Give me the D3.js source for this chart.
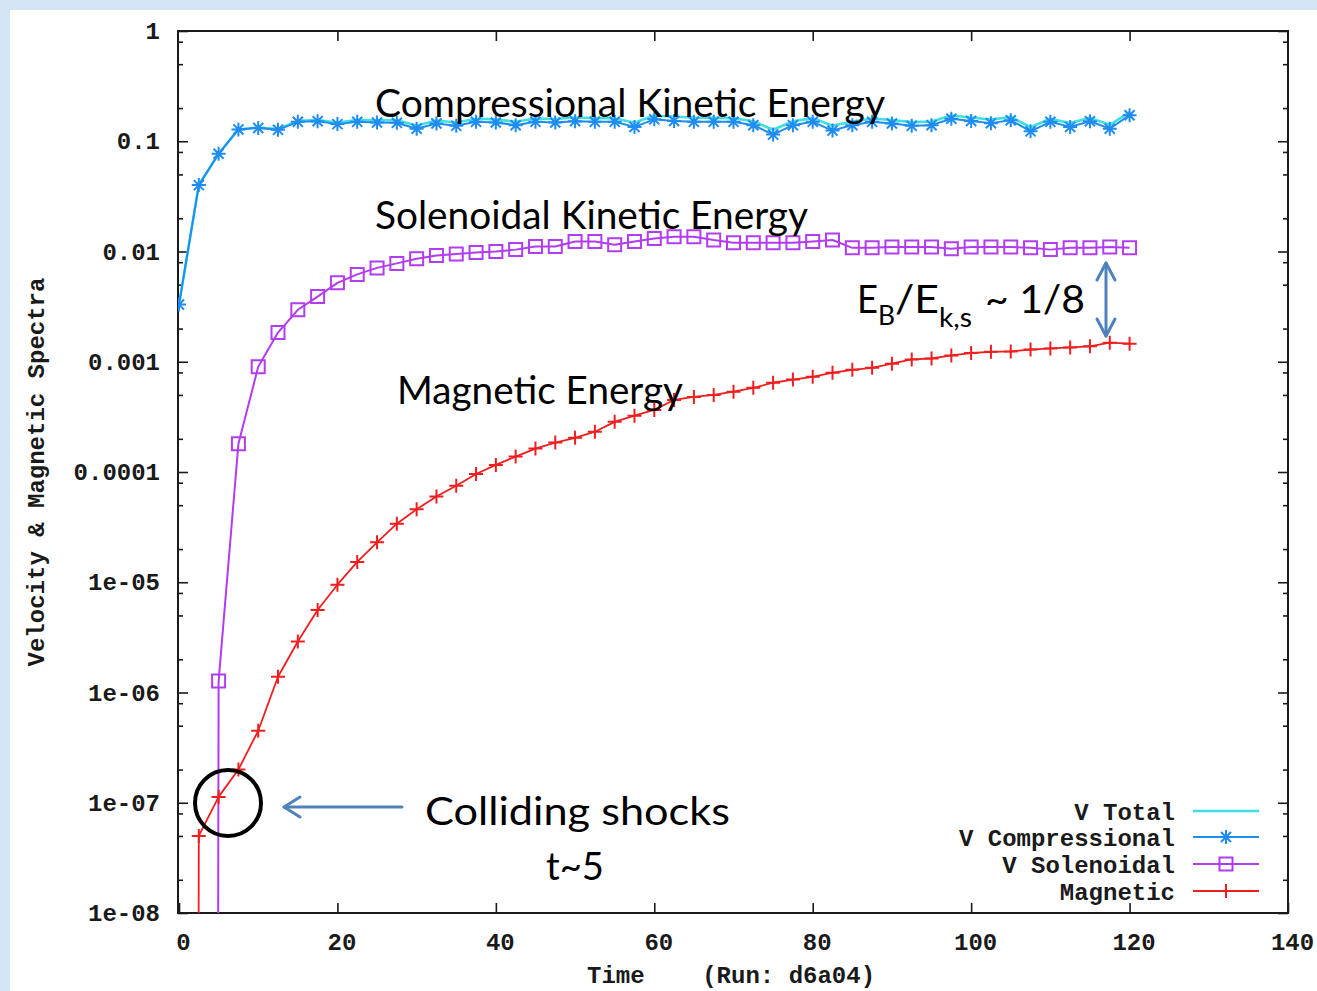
<!DOCTYPE html>
<html>
<head>
<meta charset="utf-8">
<script src="https://cdn.jsdelivr.net/npm/d3@7"></script>
<style>
  html, body { margin: 0; padding: 0; background: #fff; }
  svg { display: block; }
  .gp { font-family: "Liberation Mono", "DejaVu Sans Mono", monospace; font-weight: bold; font-size: 24px; fill: #1a1a1a; }
  .note { font-family: Lato, "Open Sans", sans-serif; font-size: 38px; fill: #000; }
</style>
</head>
<body>
<svg id="chart" width="1317" height="991"></svg>
<script>
// ---- data: energy time series of run d6a04 ----
const times = [0, 2.5, 5, 7.5, 10, 12.5, 15, 17.5, 20, 22.5, 25, 27.5, 30, 32.5, 35, 37.5, 40,
  42.5, 45, 47.5, 50, 52.5, 55, 57.5, 60, 62.5, 65, 67.5, 70, 72.5, 75, 77.5, 80, 82.5, 85,
  87.5, 90, 92.5, 95, 97.5, 100, 102.5, 105, 107.5, 110, 112.5, 115, 117.5, 120];

const vTotal = [0.0033, 0.040, 0.077, 0.128, 0.133, 0.129, 0.153, 0.156, 0.148, 0.156, 0.155,
  0.155, 0.139, 0.154, 0.148, 0.160, 0.158, 0.150, 0.161, 0.159, 0.164, 0.162, 0.162, 0.147,
  0.171, 0.167, 0.164, 0.163, 0.162, 0.152, 0.127, 0.152, 0.162, 0.138, 0.151, 0.161, 0.156,
  0.149, 0.151, 0.171, 0.164, 0.157, 0.166, 0.134, 0.160, 0.146, 0.163, 0.141, 0.183];

const vCompressional = [0.0033, 0.040, 0.077, 0.128, 0.132, 0.127, 0.150, 0.152, 0.143, 0.150,
  0.148, 0.147, 0.130, 0.145, 0.138, 0.150, 0.148, 0.140, 0.150, 0.148, 0.152, 0.150, 0.150,
  0.135, 0.158, 0.153, 0.150, 0.150, 0.150, 0.140, 0.115, 0.140, 0.150, 0.125, 0.140, 0.150,
  0.145, 0.138, 0.140, 0.160, 0.153, 0.146, 0.155, 0.123, 0.150, 0.135, 0.152, 0.130, 0.172];

const vSolenoidal = [1e-100, 1e-100, 1.27e-6, 1.8e-4, 9.0e-4, 1.84e-3, 2.96e-3, 3.9e-3, 5.2e-3,
  6.2e-3, 7.1e-3, 7.8e-3, 8.6e-3, 9.2e-3, 9.5e-3, 9.8e-3, 0.0100, 0.0104, 0.0111, 0.0111,
  0.0123, 0.0123, 0.0115, 0.0123, 0.0131, 0.0136, 0.0136, 0.0127, 0.0120, 0.0120, 0.0120,
  0.0120, 0.0123, 0.0127, 0.0108, 0.0108, 0.0110, 0.0110, 0.0110, 0.0106, 0.0110, 0.0110,
  0.0110, 0.0108, 0.0104, 0.0108, 0.0108, 0.0110, 0.0108];

const magnetic = [1e-100, 5.0e-8, 1.13e-7, 2.0e-7, 4.5e-7, 1.39e-6, 2.9e-6, 5.6e-6, 9.5e-6,
  1.53e-5, 2.3e-5, 3.4e-5, 4.6e-5, 6.0e-5, 7.5e-5, 9.6e-5, 1.16e-4, 1.38e-4, 1.63e-4, 1.85e-4,
  2.04e-4, 2.32e-4, 2.85e-4, 3.24e-4, 3.66e-4, 4.5e-4, 4.8e-4, 5.0e-4, 5.35e-4, 5.8e-4,
  6.45e-4, 6.9e-4, 7.3e-4, 7.95e-4, 8.45e-4, 8.8e-4, 9.6e-4, 1.05e-3, 1.07e-3, 1.14e-3,
  1.20e-3, 1.23e-3, 1.24e-3, 1.29e-3, 1.32e-3, 1.35e-3, 1.38e-3, 1.49e-3, 1.46e-3];

const seriesNames = ["V Total", "V Compressional", "V Solenoidal", "Magnetic"];

const xTickValues = [0, 20, 40, 60, 80, 100, 120, 140];
const xTickLabels = ["0", "20", "40", "60", "80", "100", "120", "140"];
const yTickValues = [1, 0.1, 0.01, 0.001, 0.0001, 1e-5, 1e-6, 1e-7, 1e-8];
const yTickLabels = ["1", "0.1", "0.01", "0.001", "0.0001", "1e-05", "1e-06", "1e-07", "1e-08"];
const minorMultipliers = [2, 5, 8];

// ---- layout ----
const W = 1317, H = 991;
const plot = { left: 178, right: 1288, top: 31, bottom: 913 };

const svg = d3.select("#chart");

// slide background with white panel
svg.append("rect").attr("width", W).attr("height", H).attr("fill", "#d3e4f4");
svg.append("rect").attr("x", 10).attr("y", 10).attr("width", W - 10).attr("height", H - 10).attr("fill", "#ffffff");

const x = d3.scaleLinear().domain([0, 140]).range([plot.left + 1, plot.right]);
const y = d3.scaleLog().domain([1e-8, 1]).range([plot.bottom, plot.top]);

// minor tick positions for the log axis
const minorTicks = [];
yTickValues.forEach(v => {
  if (v < 1) minorMultipliers.forEach(m => { const t = v * m; if (t < 1) minorTicks.push(t); });
});

function styleAxis(g, cls) {
  g.attr("font-family", null).attr("font-size", null).attr("color", "#1a1a1a");
  g.select(".domain").remove();
  g.selectAll(".tick line").attr("stroke-width", 1.6);
  g.selectAll("text").attr("class", cls);
}

// bottom axis with labels
svg.append("g").attr("transform", `translate(0,${plot.bottom})`)
  .call(d3.axisBottom(x).tickValues(xTickValues).tickFormat((d, i) => xTickLabels[i])
    .tickSize(-10).tickPadding(20))
  .call(g => styleAxis(g, "gp"))
  .call(g => g.selectAll("text").attr("dx", 4));

// top mirrored ticks
svg.append("g").attr("transform", `translate(0,${plot.top})`)
  .call(d3.axisTop(x).tickValues(xTickValues.slice(1, -1)).tickFormat("").tickSize(-10))
  .call(g => styleAxis(g, "gp"));

// left axis: majors with labels, minors
svg.append("g").attr("transform", `translate(${plot.left},0)`)
  .call(d3.axisLeft(y).tickValues(yTickValues).tickFormat((d, i) => yTickLabels[i])
    .tickSize(-10).tickPadding(18))
  .call(g => styleAxis(g, "gp"));
svg.append("g").attr("transform", `translate(${plot.left},0)`)
  .call(d3.axisLeft(y).tickValues(minorTicks).tickFormat("").tickSize(-5))
  .call(g => styleAxis(g, "gp"));

// right mirrored ticks
svg.append("g").attr("transform", `translate(${plot.right},0)`)
  .call(d3.axisRight(y).tickValues(yTickValues).tickFormat("").tickSize(-10))
  .call(g => styleAxis(g, "gp"));
svg.append("g").attr("transform", `translate(${plot.right},0)`)
  .call(d3.axisRight(y).tickValues(minorTicks).tickFormat("").tickSize(-5))
  .call(g => styleAxis(g, "gp"));

// frame
svg.append("rect")
  .attr("x", plot.left).attr("y", plot.top)
  .attr("width", plot.right - plot.left).attr("height", plot.bottom - plot.top)
  .attr("fill", "none").attr("stroke", "#1a1a1a").attr("stroke-width", 2);

// axis titles
svg.append("text").attr("class", "gp")
  .attr("transform", "translate(44,472) rotate(-90)")
  .attr("text-anchor", "middle")
  .text("Velocity & Magnetic Spectra");
svg.append("text").attr("class", "gp")
  .attr("x", 587).attr("y", 983)
  .style("white-space", "pre")
  .text("Time    (Run: d6a04)");

// ---- series ----
const defs = svg.append("defs");
defs.append("clipPath").attr("id", "plotClip")
  .append("rect").attr("x", plot.left).attr("y", plot.top)
  .attr("width", plot.right - plot.left).attr("height", plot.bottom - plot.top);

const starPath = r => { const d = r * 0.72; return `M${-r},0H${r}M0,${-r}V${r}M${-d},${-d}L${d},${d}M${-d},${d}L${d},${-d}`; };
const boxPath = r => `M${-r},${-r}H${r}V${r}H${-r}Z`;
const plusPath = r => `M${-r},0H${r}M0,${-r}V${r}`;

const series = [
  { name: seriesNames[0], values: vTotal, color: "#40e0e0", width: 2.6, marker: null },
  { name: seriesNames[1], values: vCompressional, color: "#1f8cf2", width: 2, marker: starPath(7), mw: 2 },
  { name: seriesNames[2], values: vSolenoidal, color: "#b23cf2", width: 2, marker: boxPath(6.5), mw: 2 },
  { name: seriesNames[3], values: magnetic, color: "#f01e1e", width: 1.8, marker: plusPath(7), mw: 2 }
];

const line = d3.line().x((d, i) => x(times[i])).y(d => y(d));
const dataG = svg.append("g").attr("clip-path", "url(#plotClip)");

series.forEach(s => {
  const g = dataG.append("g");
  g.append("path").attr("d", line(s.values))
    .attr("fill", "none").attr("stroke", s.color).attr("stroke-width", s.width)
    .attr("stroke-linejoin", "round");
  if (s.marker) {
    g.selectAll("path.mk").data(s.values).join("path").attr("class", "mk")
      .attr("transform", (d, i) => `translate(${x(times[i])},${y(d)})`)
      .attr("d", s.marker).attr("fill", "none")
      .attr("stroke", s.color).attr("stroke-width", s.mw);
  }
});

// ---- legend ----
const legendRows = [812, 838, 865, 892];
series.forEach((s, i) => {
  const ly = legendRows[i];
  svg.append("text").attr("class", "gp").attr("x", 1175).attr("y", ly)
    .attr("dy", "0.33em").attr("text-anchor", "end").text(s.name);
  svg.append("line").attr("x1", 1193).attr("x2", 1259).attr("y1", ly - 1).attr("y2", ly - 1)
    .attr("stroke", s.color).attr("stroke-width", s.width);
  if (s.marker) {
    svg.append("path").attr("transform", `translate(1226,${ly - 1})`).attr("d", s.marker)
      .attr("fill", "none").attr("stroke", s.color).attr("stroke-width", s.mw);
  }
});

// ---- annotations ----
const note = (txt, x0, y0, len, size) => svg.append("text").attr("class", "note")
  .attr("x", x0).attr("y", y0).attr("textLength", len).attr("lengthAdjust", "spacingAndGlyphs")
  .style("font-size", (size || 38) + "px").text(txt);

note("Compressional Kinetic Energy", 375, 117, 510);
note("Solenoidal Kinetic Energy", 375, 229, 433);
note("Magnetic Energy", 397, 404, 286);
note("Colliding shocks", 425, 825, 305);
note("t~5", 546, 880, 58);

// energy ratio label
note("E", 857, 313, 21);
note("B", 878, 325, 17, 26);
note("/E", 895, 313, 44);
note("k,s", 939, 327, 33, 26);
note("~ 1/8", 985, 313, 100);

const arrowBlue = "#4f81bd";
const arrowG = svg.append("g").attr("fill", "none").attr("stroke", arrowBlue)
  .attr("stroke-width", 3).attr("stroke-linecap", "round").attr("stroke-linejoin", "round");

// double-headed arrow between solenoidal and magnetic levels
arrowG.append("path").attr("d", "M1106,263V336");
arrowG.append("path").attr("d", "M1097,280L1106,263L1115,280");
arrowG.append("path").attr("d", "M1097,319L1106,336L1115,319");

// pointer to the collision point
arrowG.append("path").attr("d", "M284,807H402");
arrowG.append("path").attr("d", "M300,797L284,807L300,817");

// marker circle around the collision point
svg.append("circle").attr("cx", 228).attr("cy", 803).attr("r", 33)
  .attr("fill", "none").attr("stroke", "#000").attr("stroke-width", 4);
</script>
</body>
</html>
